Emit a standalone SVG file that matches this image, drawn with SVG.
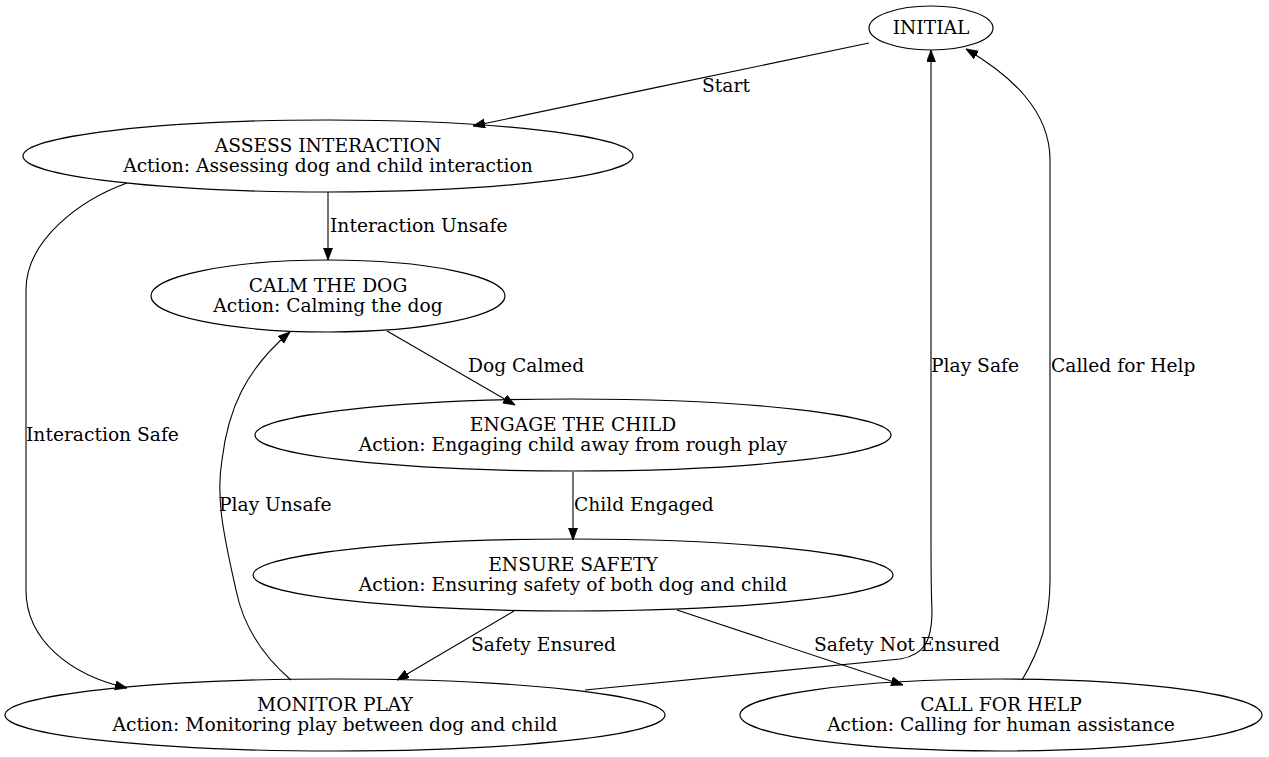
<svg xmlns="http://www.w3.org/2000/svg" width="1269" height="757" viewBox="0 0 1269 757">
<style>
.n ellipse{fill:none;stroke:#000;stroke-width:1.2}
.c{text-anchor:middle}
.e path{fill:none;stroke:#000;stroke-width:1.1;marker-end:url(#ah)}
</style>
<defs>
<marker id="ah" markerUnits="userSpaceOnUse" markerWidth="14" markerHeight="10" refX="12" refY="4.5" orient="auto">
<path d="M0,0 L12,4.5 L0,9 Z" fill="#000" stroke="#000" stroke-width="0.8"/>
</marker>
</defs>
<rect width="1269" height="757" fill="#fff"/>
<g font-family="DejaVu Serif, serif" font-size="18.67" fill="#000">
<g class="e" id="edges">
<path d="M869,43 C780,62 580,103 473,126"/>
<path d="M328,192 L328,260"/>
<path d="M127,183 C80,200 26,240 26,290 L26,590 C26,640 70,675 127,688"/>
<path d="M387,331 L515,405"/>
<path d="M573,472 L573,540"/>
<path d="M514,611 L397,680"/>
<path d="M677,610 L903,685"/>
<path d="M291,680 C262,655 243,625 236,590 C226,545 215,500 222,460 C228,410 245,370 290,332"/>
<path d="M585,690 L900,659 C925,655 932,640 932,610 C931,590 931,560 931,540 L931,50"/>
<path d="M1022,680 C1040,650 1050,620 1050,580 L1050,160 C1050,110 1010,75 966,49"/>
</g>
<g id="edge-labels">
<text x="726" y="92" class="c">Start</text>
<text x="330" y="232">Interaction Unsafe</text>
<text x="26" y="441">Interaction Safe</text>
<text x="468" y="372">Dog Calmed</text>
<text x="574" y="511">Child Engaged</text>
<text x="471" y="651">Safety Ensured</text>
<text x="814" y="651">Safety Not Ensured</text>
<text x="219" y="511">Play Unsafe</text>
<text x="931" y="372">Play Safe</text>
<text x="1051" y="372">Called for Help</text>
</g>
<g class="n" id="initial"><ellipse cx="931" cy="28" rx="62" ry="22"/><text x="931" y="34" class="c">INITIAL</text></g>
<g class="n" id="assess"><ellipse cx="328" cy="156" rx="305" ry="36"/><text x="328" y="152" class="c">ASSESS INTERACTION</text><text x="328" y="172" class="c">Action: Assessing dog and child interaction</text></g>
<g class="n" id="calm"><ellipse cx="328" cy="296" rx="177" ry="36"/><text x="328" y="292" class="c">CALM THE DOG</text><text x="328" y="312" class="c">Action: Calming the dog</text></g>
<g class="n" id="engage"><ellipse cx="573" cy="435" rx="318" ry="36"/><text x="573" y="431" class="c">ENGAGE THE CHILD</text><text x="573" y="451" class="c">Action: Engaging child away from rough play</text></g>
<g class="n" id="ensure"><ellipse cx="573" cy="575" rx="320" ry="36"/><text x="573" y="571" class="c">ENSURE SAFETY</text><text x="573" y="591" class="c">Action: Ensuring safety of both dog and child</text></g>
<g class="n" id="monitor"><ellipse cx="335" cy="715" rx="330" ry="36"/><text x="335" y="711" class="c">MONITOR PLAY</text><text x="335" y="731" class="c">Action: Monitoring play between dog and child</text></g>
<g class="n" id="callhelp"><ellipse cx="1001" cy="715" rx="261" ry="36"/><text x="1001" y="711" class="c">CALL FOR HELP</text><text x="1001" y="731" class="c">Action: Calling for human assistance</text></g>
</g>
</svg>
